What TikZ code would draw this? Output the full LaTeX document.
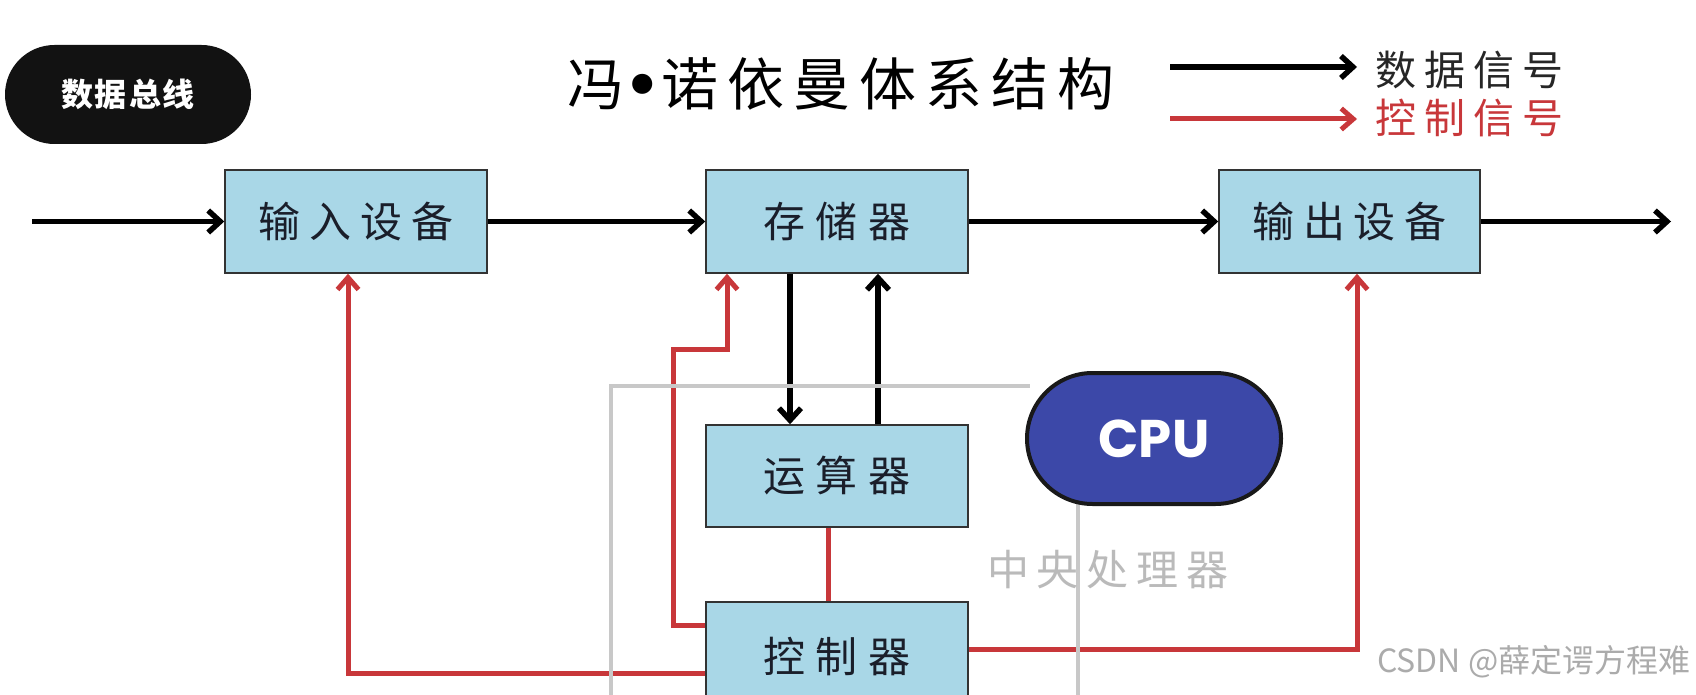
\documentclass[tikz,border=0pt]{standalone}
\usepackage{fontspec}
\newfontfamily\cjk{Noto Sans CJK SC}
\newfontfamily\pop{Poppins}
\newfontfamily\djv{DejaVu Sans}
\usetikzlibrary{arrows.meta,shapes.misc,calc}
\definecolor{boxblue}{HTML}{A9D7E7}
\definecolor{ctrlred}{HTML}{C8373A}
\definecolor{cpublue}{HTML}{3C48A8}
\definecolor{lgray}{HTML}{C8C8C8}
\definecolor{txtdark}{HTML}{1A1E2A}
\makeatletter
\newcommand\spaced[2]{\def\sp@gap{#1}\let\sp@first\relax\@tfor\sp@c:=#2\do{\ifx\sp@first\relax\let\sp@first\@empty\else\hspace{\sp@gap}\fi\sp@c}}
\makeatother
\begin{document}
\begin{tikzpicture}[x=1pt,y=-1pt,
  blk/.style={draw=black!80, line width=1.5pt, fill=boxblue, minimum width=262pt, minimum height=103pt, inner sep=0pt, text=txtdark, font=\cjk\fontsize{42}{46}\selectfont},
  darr/.style={line width=5.5pt, black, -{Straight Barb[length=12pt,width=22pt]}},
  rarr/.style={line width=5pt, ctrlred, -{Straight Barb[length=12pt,width=21pt]}},
  rline/.style={line width=5pt, ctrlred},
  gline/.style={line width=4.5pt, lgray},
  lgtext/.style={inner sep=0pt, font=\cjk\fontsize{41}{44}\selectfont}]
\useasboundingbox (0,0) rectangle (1696,695);
\fill[white] (0,0) rectangle (1696,695);
\clip (0,0) rectangle (1696,695);

% bus label
\node[rounded rectangle, fill=black!93, minimum width=246pt, minimum height=99pt, inner sep=0pt, text=white, font=\cjk\bfseries\fontsize{32}{36}\selectfont] (bus) at (128,94.5) {\spaced{2pt}{数据总线}};

% title
\node[inner sep=0pt, font=\cjk\fontsize{57}{60}\selectfont] (title) at (841,84) {冯{\djv\bfseries•}\spaced{9pt}{诺依曼体系结构}};

% legend
\coordinate (lgA1) at (1170,67);
\coordinate (lgB1) at (1357,67);
\coordinate (lgA2) at (1170,119);
\coordinate (lgB2) at (1357,119);
\draw[darr] (lgA1) -- (lgB1);
\draw[rarr] (lgA2) -- (lgB2);
\node[lgtext, text=black!85] (lgt1) at (1469.5,70) {\spaced{8pt}{数据信号}};
\node[lgtext, text=ctrlred] (lgt2) at (1469.5,118) {\spaced{8pt}{控制信号}};

% boxes
\node[blk] (inp) at (356,221.5) {\spaced{9pt}{输入设备}};
\node[blk] (mem) at (837,221.5) {\spaced{11pt}{存储器}};
\node[blk, minimum width=261pt] (outd) at (1349.5,221.5) {\spaced{9pt}{输出设备}};
\node[blk, minimum height=102pt] (alu) at (837,476) {\spaced{11pt}{运算器}};
\node[blk, minimum height=110pt] (ctl) at (837,657) {\spaced{11pt}{控制器}};

% control (red) lines
\draw[rarr] ([yshift=32pt]ctl.west) -| (673,349) -| ([xshift=-110pt]mem.south);
\draw[rline] ([xshift=-9pt]alu.south) -- ([xshift=-9pt]ctl.north);
\draw[rarr] ([yshift=-16pt]ctl.west) -| ([xshift=-8pt]inp.south);
\draw[rarr] ([yshift=8pt]ctl.east) -| ([xshift=7.5pt]outd.south);

% data (black) arrows
\coordinate (inL) at (32,221.5);
\coordinate (outR) at (1671,221.5);
\draw[darr] (inL) -- (inp.west);
\draw[darr] (inp.east) -- (mem.west);
\draw[darr] (mem.east) -- (outd.west);
\draw[darr] (outd.east) -- (outR);
\draw[darr] ([xshift=-47pt]mem.south) -- ([xshift=-47pt]alu.north);
\draw[darr] ([xshift=41pt]alu.north) -- ([xshift=41pt]mem.south);

% CPU boundary (gray)
\coordinate (g1) at (611,700);
\coordinate (g2) at (611,386);
\coordinate (g3) at (1030,386);
\coordinate (g4) at (1078,480);
\coordinate (g5) at (1078,700);
\draw[gline] (g1) -- (g2) -- (g3);
\draw[gline] (g4) -- (g5);

% CPU
\node[rounded rectangle, draw=black!90, line width=4pt, fill=cpublue, minimum width=254pt, minimum height=131pt, inner sep=0pt, text=white, font=\pop\bfseries\fontsize{53}{56}\selectfont] (cpu) at (1154,438.5) {CPU};

\node[inner sep=0pt, text=black!27, font=\cjk\fontsize{42}{46}\selectfont] (cpulbl) at (1108,570) {\spaced{8pt}{中央处理器}};

% watermark
\node[anchor=west, inner sep=0pt, text=black!33, font=\cjk\fontsize{32}{36}\selectfont] (wm) at (1377,662) {CSDN @薛定谔方程难};
\end{tikzpicture}
\end{document}
